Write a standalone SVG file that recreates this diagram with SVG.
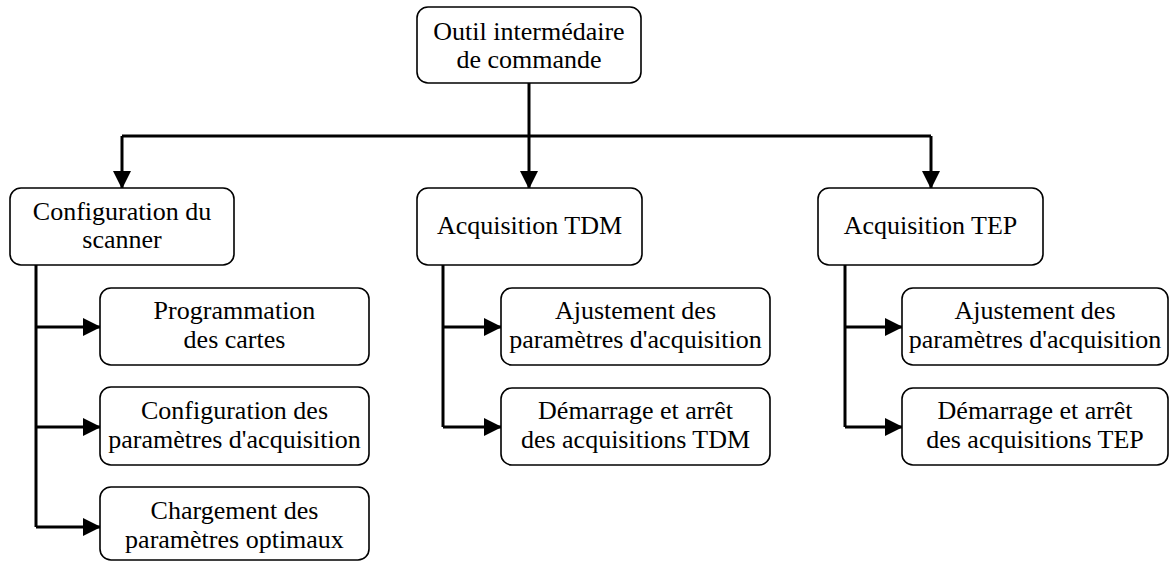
<svg xmlns="http://www.w3.org/2000/svg" width="1169" height="561" viewBox="0 0 1169 561">
  <style>
    .box { fill: #ffffff; stroke: #000000; stroke-width: 1.6; }
    .lbl { font-family: "Liberation Serif", "Times New Roman", serif; font-size: 26px; fill: #000000; text-anchor: middle; }
    .wire { fill: none; stroke: #000000; stroke-width: 3; }
  </style>
  <defs>
    <marker id="arrow" markerUnits="userSpaceOnUse" markerWidth="18" markerHeight="18" viewBox="0 0 18 18" refX="17" refY="9" orient="auto">
      <path d="M0,0 L18,9 L0,18 Z" fill="#000000"/>
    </marker>
  </defs>
  <rect width="1169" height="561" fill="#ffffff"/>

  <!-- connectors -->
  <g id="connectors">
    <path class="wire" d="M529,83 V136"/>
    <path class="wire" d="M122,136 H931"/>
    <path class="wire" d="M122,136 V188" marker-end="url(#arrow)"/>
    <path class="wire" d="M529,136 V188" marker-end="url(#arrow)"/>
    <path class="wire" d="M931,136 V188" marker-end="url(#arrow)"/>

    <path class="wire" d="M36,265 V527"/>
    <path class="wire" d="M36,327 H100" marker-end="url(#arrow)"/>
    <path class="wire" d="M36,427 H100" marker-end="url(#arrow)"/>
    <path class="wire" d="M36,527 H100" marker-end="url(#arrow)"/>

    <path class="wire" d="M443,265 V427"/>
    <path class="wire" d="M443,327 H501" marker-end="url(#arrow)"/>
    <path class="wire" d="M443,427 H501" marker-end="url(#arrow)"/>

    <path class="wire" d="M845,265 V427"/>
    <path class="wire" d="M845,327 H902" marker-end="url(#arrow)"/>
    <path class="wire" d="M845,427 H902" marker-end="url(#arrow)"/>
  </g>

  <!-- root -->
  <g id="outil">
    <rect class="box" x="417" y="7" width="224" height="76" rx="11"/>
    <text class="lbl" x="529" y="40">Outil intermédaire</text>
    <text class="lbl" x="529" y="68">de commande</text>
  </g>

  <!-- level 1 -->
  <g id="config-scanner">
    <rect class="box" x="10" y="188" width="224" height="77" rx="11"/>
    <text class="lbl" x="122" y="220">Configuration du</text>
    <text class="lbl" x="122" y="248">scanner</text>
  </g>
  <g id="acq-tdm">
    <rect class="box" x="417" y="188" width="225" height="77" rx="11"/>
    <text class="lbl" x="529.5" y="234">Acquisition TDM</text>
  </g>
  <g id="acq-tep">
    <rect class="box" x="818" y="188" width="225" height="77" rx="11"/>
    <text class="lbl" x="930.5" y="234">Acquisition TEP</text>
  </g>

  <!-- scanner configuration tasks -->
  <g id="programmation">
    <rect class="box" x="100" y="288" width="269" height="77" rx="11"/>
    <text class="lbl" x="234.5" y="319">Programmation</text>
    <text class="lbl" x="234.5" y="348">des cartes</text>
  </g>
  <g id="config-params">
    <rect class="box" x="100" y="387" width="269" height="78" rx="11"/>
    <text class="lbl" x="234.5" y="419">Configuration des</text>
    <text class="lbl" x="234.5" y="448">paramètres d'acquisition</text>
  </g>
  <g id="chargement">
    <rect class="box" x="100" y="487" width="269" height="73" rx="11"/>
    <text class="lbl" x="234.5" y="519">Chargement des</text>
    <text class="lbl" x="234.5" y="548">paramètres optimaux</text>
  </g>

  <!-- TDM tasks -->
  <g id="tdm-ajustement">
    <rect class="box" x="501" y="288" width="269" height="77" rx="11"/>
    <text class="lbl" x="635.5" y="319">Ajustement des</text>
    <text class="lbl" x="635.5" y="348">paramètres d'acquisition</text>
  </g>
  <g id="tdm-demarrage">
    <rect class="box" x="501" y="388" width="269" height="77" rx="11"/>
    <text class="lbl" x="635.5" y="419">Démarrage et arrêt</text>
    <text class="lbl" x="635.5" y="448">des acquisitions TDM</text>
  </g>

  <!-- TEP tasks -->
  <g id="tep-ajustement">
    <rect class="box" x="902" y="288" width="266" height="77" rx="11"/>
    <text class="lbl" x="1035" y="319">Ajustement des</text>
    <text class="lbl" x="1035" y="348">paramètres d'acquisition</text>
  </g>
  <g id="tep-demarrage">
    <rect class="box" x="902" y="388" width="266" height="77" rx="11"/>
    <text class="lbl" x="1035" y="419">Démarrage et arrêt</text>
    <text class="lbl" x="1035" y="448">des acquisitions TEP</text>
  </g>
</svg>
